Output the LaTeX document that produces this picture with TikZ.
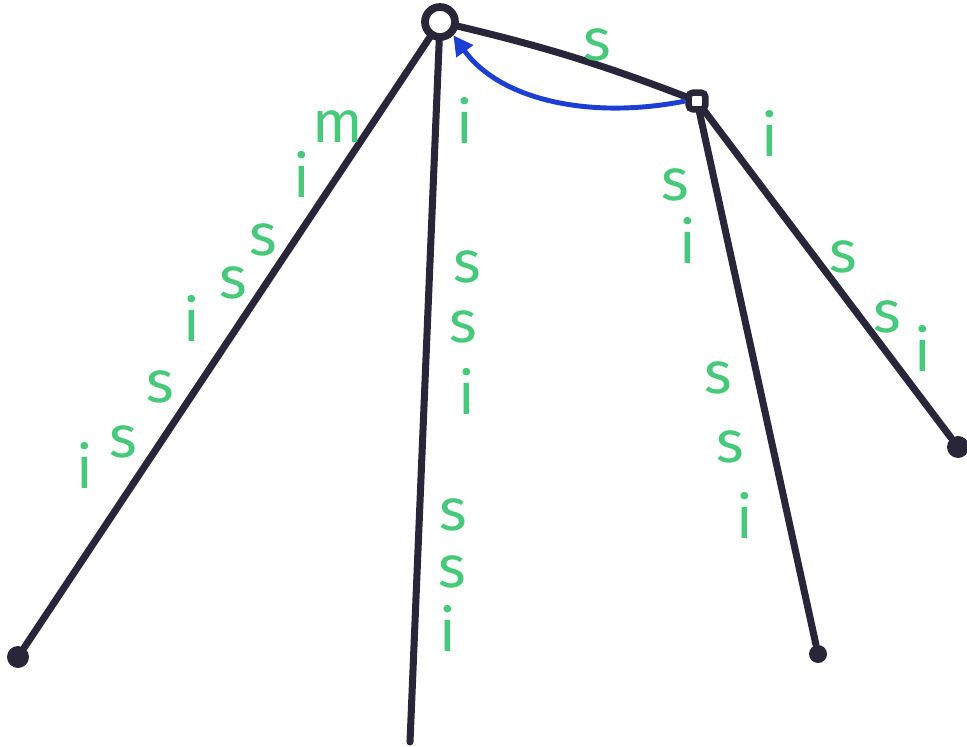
\documentclass[tikz,border=0pt]{standalone}
\usepackage{fontspec}
\usepackage{xcolor}
\newfontfamily\handfont{Fira Sans}
\usetikzlibrary{arrows.meta,positioning}
\definecolor{ink}{RGB}{40,38,56}
\definecolor{chalk}{RGB}{72,200,122}
\definecolor{slink}{RGB}{28,62,210}
\tikzset{
  edge/.style={draw=ink,line width=5pt,line cap=round},
  lbl/.style={text=chalk,inner sep=0pt,text height=22pt,text depth=0pt,
    font=\handfont\fontsize{42}{42}\selectfont},
  rootnode/.style={circle,draw=ink,fill=white,line width=5.5pt,minimum size=0.75cm,inner sep=0pt},
  innode/.style={rectangle,rounded corners=3pt,draw=ink,fill=white,line width=4.5pt,minimum size=0.42cm,inner sep=0pt},
  leafnode/.style={circle,fill=ink,inner sep=0pt,minimum size=#1}
}
\begin{document}
\begin{tikzpicture}[x=0.025cm,y=-0.025cm]
  \useasboundingbox (0,0) rectangle (967,747);
  \coordinate (b) at (410,742);
  \node[leafnode=0.55cm] (a) at (18,657) {};
  \node[leafnode=0.45cm] (c) at (818,654) {};
  \node[leafnode=0.55cm] (d) at (958,447) {};
  % edges first, nodes drawn on top
  \draw[edge] (440,22) -- (a);
  \draw[edge] (440,22) -- (b);
  \draw[edge] (697,101) -- (c);
  \draw[edge] (697,101) -- (d);
  \draw[edge] (440,22) to[bend left=4] (697,101);
  \node[rootnode] (r) at (440,22) {};
  \node[innode] (u) at (697,101) {};
  % suffix link
  \draw[slink,line width=3.5pt,-{Triangle[length=14pt,width=14pt]}]
    (u.west) .. controls (590,120) and (500,100) .. (r.south east);
  \foreach \t/\x/\y [count=\k] in {m/338/127,i/302/182,s/263/240,s/233/283,i/192/326,
      s/160/387,s/123/442,i/85/473}
    \node[lbl] (p\k) at (\x,\y) {\t};
  \foreach \t/\x/\y [count=\k] in {i/465/128,s/467/267,s/463/327,i/467/399,
      s/453/515,s/452/572,i/448/636}
    \node[lbl] (q\k) at (\x,\y) {\t};
  \foreach \t/\x/\y [count=\k] in {s/675/185,i/688/248,s/718/378,s/730/447,i/745/523}
    \node[lbl] (v\k) at (\x,\y) {\t};
  \foreach \t/\x/\y [count=\k] in {i/770/141,s/843/257,s/887/317,i/923/356}
    \node[lbl] (w\k) at (\x,\y) {\t};
  \node[lbl] (s1) at (597,45) {s};
\end{tikzpicture}
\end{document}
